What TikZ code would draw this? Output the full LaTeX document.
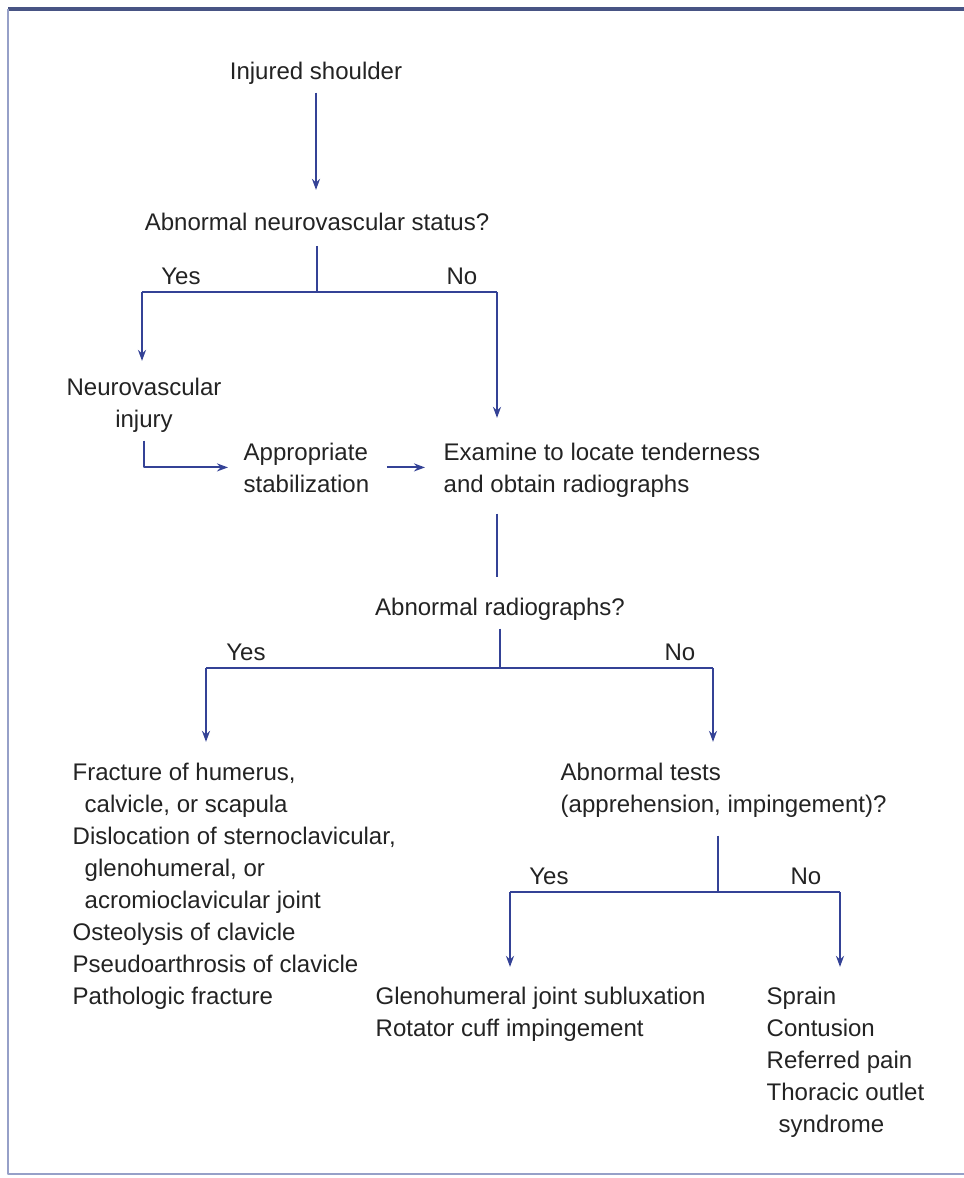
\documentclass[tikz,border=0pt]{standalone}
\usepackage{fontspec}
\setmainfont{Liberation Sans}
\usetikzlibrary{arrows.meta}

\definecolor{linkblue}{RGB}{52,66,150}
\definecolor{framedark}{RGB}{72,84,132}
\definecolor{framelight}{RGB}{150,160,200}
\definecolor{txt}{RGB}{35,35,35}

\tikzset{
  lbl/.style={inner sep=0pt, text=txt, font=\fontsize{6.83}{9.1}\selectfont},
  link/.style={draw=linkblue, line width=0.6pt},
  arr/.style={link, -{Stealth[length=0.11cm, width=0.08cm]}},
}

\begin{document}
\begin{tikzpicture}[x=0.01cm, y=-0.01cm, line join=round]
  \useasboundingbox (0,0) rectangle (964,1178);

  % frame
  \draw[framedark, line width=1pt] (8,9) -- (964,9);
  \draw[framelight, line width=0.6pt] (8,9) -- (8,1174) -- (964,1174);

  % questions and outcomes (base = last line)
  \node[lbl, anchor=base] (inj) at (316,79) {Injured shoulder};
  \node[lbl, anchor=base] (nvq) at (317,230) {Abnormal neurovascular status?};
  \node[lbl, anchor=base, align=center] (nvi) at (144,427) {Neurovascular\\injury};
  \node[lbl, anchor=base west, align=left] (stab) at (243,492) {Appropriate\\stabilization};
  \node[lbl, anchor=base west, align=left] (exam) at (443,492) {Examine to locate tenderness\\and obtain radiographs};
  \node[lbl, anchor=base] (rad) at (500,615) {Abnormal radiographs?};
  \node[lbl, anchor=base west, align=left] (frac) at (72,1004)
    {Fracture of humerus,\\
     \hspace*{0.5em}calvicle, or scapula\\
     Dislocation of sternoclavicular,\\
     \hspace*{0.5em}glenohumeral, or\\
     \hspace*{0.5em}acromioclavicular joint\\
     Osteolysis of clavicle\\
     Pseudoarthrosis of clavicle\\
     Pathologic fracture};
  \node[lbl, anchor=base west, align=left] (tests) at (560,812) {Abnormal tests\\(apprehension, impingement)?};
  \node[lbl, anchor=base west, align=left] (subl) at (375,1036) {Glenohumeral joint subluxation\\Rotator cuff impingement};
  \node[lbl, anchor=base west, align=left] (minor) at (766,1132)
    {Sprain\\Contusion\\Referred pain\\Thoracic outlet\\\hspace*{0.5em}syndrome};

  % yes / no labels
  \node[lbl, anchor=base] (yes1) at (181,284) {Yes};
  \node[lbl, anchor=base] (no1) at (462,284) {No};
  \node[lbl, anchor=base] (yes2) at (246,660) {Yes};
  \node[lbl, anchor=base] (no2) at (680,660) {No};
  \node[lbl, anchor=base] (yes3) at (549,884) {Yes};
  \node[lbl, anchor=base] (no3) at (806,884) {No};

  % branch corners
  \coordinate (nvL) at (142,292);
  \coordinate (nvR) at (497,292);
  \coordinate (radL) at (206,668);
  \coordinate (radR) at (713,668);
  \coordinate (tsL) at (510,892);
  \coordinate (tsR) at (840,892);
  \coordinate (tsM) at (718,892);

  % first question
  \draw[arr, shorten <=0.08cm, shorten >=0.22cm] (inj.south) -- (inj.south |- nvq.north);
  \draw[link, shorten <=0.15cm] (nvq.south) -- (nvq.south |- nvL);
  \draw[link] (nvL) -- (nvR);
  \draw[arr, shorten >=0.16cm] (nvL) -- (nvL |- nvi.north);
  \draw[arr, shorten >=0.24cm] (nvR) -- (nvR |- exam.north);
  \draw[arr, shorten <=0.08cm, shorten >=0.15cm] (nvi.south) |- (stab.west);
  \draw[arr, shorten <=0.17cm, shorten >=0.18cm] (stab.east) -- (stab.east -| exam.west);

  % radiographs
  \draw[link, shorten <=0.16cm, shorten >=0.2cm] (nvR |- exam.south) -- (nvR |- rad.north);
  \draw[link, shorten <=0.08cm] (rad.south) -- (rad.south |- radL);
  \draw[link] (radL) -- (radR);
  \draw[arr, shorten >=0.2cm] (radL) -- (radL |- frac.north);
  \draw[arr, shorten >=0.2cm] (radR) -- (radR |- tests.north);

  % clinical tests
  \draw[link, shorten <=0.18cm] (tsM |- tests.south) -- (tsM);
  \draw[link] (tsL) -- (tsR);
  \draw[arr, shorten >=0.19cm] (tsL) -- (tsL |- subl.north);
  \draw[arr, shorten >=0.19cm] (tsR) -- (tsR |- minor.north);
\end{tikzpicture}
\end{document}
